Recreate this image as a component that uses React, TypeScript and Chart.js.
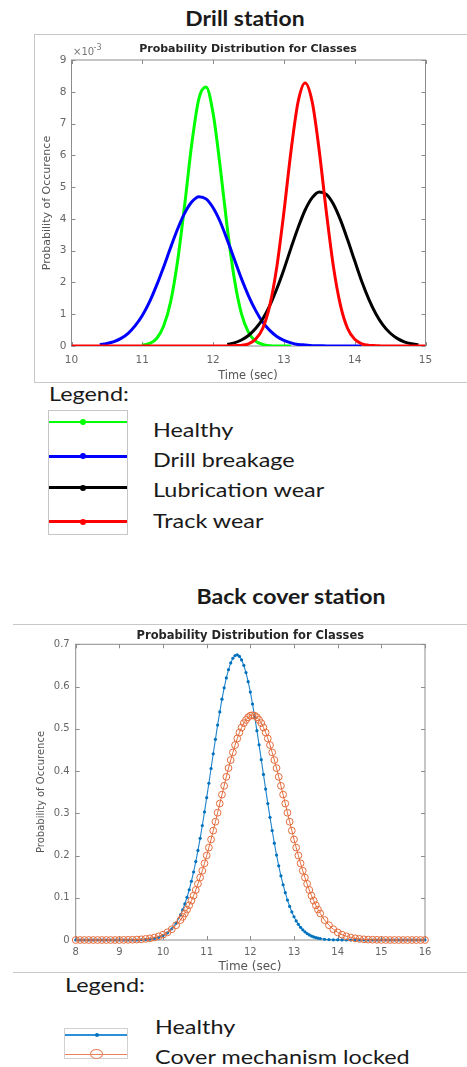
import React, { useEffect, useRef } from "react";
import { Chart, registerables } from "chart.js";
Chart.register(...registerables);

// ---------- Drill station (values in units of 10^-3) ----------
const drillTime = [
  10.0, 10.1, 10.2, 10.3, 10.4, 10.5, 10.6, 10.7, 10.8, 10.9,
  11.0, 11.1, 11.2, 11.3, 11.4, 11.5, 11.6, 11.7, 11.8, 11.9,
  12.0, 12.1, 12.2, 12.3, 12.4, 12.5, 12.6, 12.7, 12.8, 12.9,
  13.0, 13.1, 13.2, 13.3, 13.4, 13.5, 13.6, 13.7, 13.8, 13.9,
  14.0, 14.1, 14.2, 14.3, 14.4, 14.5, 14.6, 14.7, 14.8, 14.9,
  15.0,
];
const drillHealthy = [
  null, null, null, null, null, null, null, null, null, null,
  0.02, 0.08, 0.23, 0.62, 1.39, 2.7, 4.47, 6.38, 7.79, 8.15,
  7.32, 5.64, 3.72, 2.11, 1.02, 0.43, 0.15, 0.05, 0.01, 0,
  0, 0, null, null, null, null, null, null, null, null,
  null, null, null, null, null, null, null, null, null, null,
  null,
];
const drillBreakage = [
  null, null, null, null, 0.04, 0.08, 0.14, 0.24, 0.4, 0.64,
  0.96, 1.38, 1.9, 2.48, 3.1, 3.69, 4.19, 4.54, 4.7, 4.63,
  4.35, 3.91, 3.34, 2.73, 2.12, 1.58, 1.12, 0.75, 0.49, 0.3,
  0.18, 0.1, 0.05, 0.03, 0.01, 0.01, 0, 0, 0, 0,
  0, 0, null, null, null, null, null, null, null, null,
  null,
];
const drillLubrication = [
  null, null, null, null, null, null, null, null, null, null,
  null, null, null, null, null, null, null, null, null, null,
  null, null, 0.05, 0.1, 0.19, 0.33, 0.55, 0.85, 1.27, 1.8,
  2.41, 3.08, 3.72, 4.28, 4.67, 4.85, 4.77, 4.46, 3.96, 3.34,
  2.68, 2.03, 1.47, 1.01, 0.66, 0.41, 0.24, 0.13, 0.07, 0.04,
  null,
];
const drillTrack = [
  0, 0, 0, 0, 0, 0, 0, 0, 0, 0,
  0, 0, 0, 0, 0, 0, 0, 0, 0, 0,
  0, 0, 0, 0.01, 0.02, 0.07, 0.21, 0.55, 1.27, 2.49,
  4.21, 6.13, 7.68, 8.28, 7.68, 6.13, 4.21, 2.49, 1.27, 0.55,
  0.21, 0.07, 0.02, 0.01, 0, 0, 0, 0, 0, 0,
  0,
];
const drillLabels = ["Healthy", "Drill breakage", "Lubrication wear", "Track wear"];
const drillColors = ["#00ff00", "#0000ff", "#000000", "#ff0000"];

// ---------- Back cover station (denser sampling on the central part) ----------
const backTime = [
  8.0, 8.1, 8.2, 8.3, 8.4, 8.5, 8.6, 8.7, 8.8, 8.9,
  9.0, 9.1, 9.2, 9.3, 9.4, 9.5, 9.6, 9.7, 9.8, 9.9,
  10.0, 10.1, 10.2, 10.3,
  10.4, 10.45, 10.5, 10.55, 10.6, 10.65, 10.7, 10.75, 10.8, 10.85, 10.9, 10.95,
  11.0, 11.05, 11.1, 11.15, 11.2, 11.25, 11.3, 11.35, 11.4, 11.45,
  11.5, 11.55, 11.6, 11.65, 11.7, 11.75, 11.8, 11.85, 11.9, 11.95,
  12.0, 12.05, 12.1, 12.15, 12.2, 12.25, 12.3, 12.35, 12.4, 12.45,
  12.5, 12.55, 12.6, 12.65, 12.7, 12.75, 12.8, 12.85, 12.9, 12.95,
  13.0, 13.05, 13.1, 13.15, 13.2, 13.25, 13.3, 13.35, 13.4, 13.45, 13.5, 13.55, 13.6,
  13.7, 13.8, 13.9, 14.0, 14.1, 14.2, 14.3, 14.4, 14.5, 14.6, 14.7, 14.8, 14.9,
  15.0, 15.1, 15.2, 15.3, 15.4, 15.5, 15.6, 15.7, 15.8, 15.9, 16.0,
];
const backHealthy = [
  0, 0, 0, 0, 0, 0, 0, 0, 0, 0,
  0, 0, 0, 0, 0, 0.0006, 0.0011, 0.0021, 0.0037, 0.0063,
  0.0104, 0.0168, 0.0264, 0.0401,
  0.0593, 0.0714, 0.0853, 0.1011, 0.119, 0.1391, 0.161, 0.1856, 0.212, 0.2408, 0.271, 0.3033,
  0.337, 0.3711, 0.406, 0.4408, 0.475, 0.5087, 0.54, 0.5701, 0.597, 0.6205,
  0.64, 0.656, 0.667, 0.6734, 0.675, 0.6714, 0.663, 0.6502, 0.633, 0.6116,
  0.587, 0.5586, 0.528, 0.4955, 0.462, 0.4269, 0.392, 0.3572, 0.323, 0.2903,
  0.259, 0.2291, 0.201, 0.1756, 0.152, 0.1308, 0.112, 0.0945, 0.0795, 0.0664,
  0.055, 0.0452, 0.037, 0.03, 0.0241, 0.0193, 0.0153, 0.012, 0.0094, 0.0073, 0.0056, 0.0043, 0.0033,
  0.0018, 0.001, 0.0005, 0.0003, 0.0001, 0, 0, 0, 0, 0, 0, 0, 0,
  0, 0, 0, 0, 0, 0, 0, 0, 0, 0, 0,
];
const backLocked = [
  0, 0, 0, 0, 0, 0, 0, 0, 0, 0,
  0.0001, 0.0002, 0.0004, 0.0006, 0.001, 0.0016, 0.0026, 0.0039, 0.0059, 0.0087,
  0.0127, 0.0181, 0.0254, 0.035,
  0.0473, 0.0547, 0.0629, 0.072, 0.0821, 0.0932, 0.105, 0.1185, 0.133, 0.1479, 0.164, 0.1815,
  0.2, 0.2187, 0.238, 0.259, 0.28, 0.3012, 0.323, 0.3442, 0.365, 0.3863,
  0.407, 0.426, 0.444, 0.4615, 0.477, 0.4911, 0.503, 0.5134, 0.521, 0.5273,
  0.531, 0.532, 0.531, 0.5273, 0.521, 0.5134, 0.503, 0.4911, 0.477, 0.4615,
  0.444, 0.426, 0.407, 0.3863, 0.365, 0.3442, 0.323, 0.3012, 0.28, 0.259,
  0.238, 0.2187, 0.2, 0.1815, 0.164, 0.1479, 0.133, 0.1185, 0.105, 0.0932, 0.0821, 0.072, 0.0629,
  0.0473, 0.035, 0.0254, 0.0181, 0.0127, 0.0087, 0.0059, 0.0039, 0.0026, 0.0016, 0.001, 0.0006, 0.0004,
  0.0002, 0.0001, 0, 0, 0, 0, 0, 0, 0, 0, 0,
];
const backLabels = ["Healthy", "Cover mechanism locked"];
const backColors = ["#0072BD", "#E36C3C"];

const chartTitle = "Probability Distribution for Classes";
const xTitle = "Time (sec)";
const yTitle = "Probability of Occurence";

type TextItem = {
  text: string; x: number; y: number; font: string; color: string;
  align?: CanvasTextAlign; rotate?: boolean;
};

function makeFrame(texts: TextItem[]) {
  return {
    id: "matlabFrame",
    beforeDatasetsDraw(chart: any) {
      const { ctx, chartArea: a, scales } = chart;
      ctx.save();
      ctx.strokeStyle = "#8c8c8c";
      ctx.lineWidth = 1;
      ctx.strokeRect(a.left, a.top, a.right - a.left, a.bottom - a.top);
      const tl = 4;
      ctx.beginPath();
      scales.x.ticks.forEach((t: any) => {
        const px = Math.round(scales.x.getPixelForValue(t.value)) + 0.5;
        ctx.moveTo(px, a.bottom); ctx.lineTo(px, a.bottom - tl);
        ctx.moveTo(px, a.top); ctx.lineTo(px, a.top + tl);
      });
      scales.y.ticks.forEach((t: any) => {
        const py = Math.round(scales.y.getPixelForValue(t.value)) + 0.5;
        ctx.moveTo(a.left, py); ctx.lineTo(a.left + tl, py);
        ctx.moveTo(a.right, py); ctx.lineTo(a.right - tl, py);
      });
      ctx.stroke();
      ctx.restore();
    },
    afterDraw(chart: any) {
      const ctx = chart.ctx;
      texts.forEach((t) => {
        ctx.save();
        ctx.font = t.font;
        ctx.fillStyle = t.color;
        ctx.textAlign = t.align || "center";
        ctx.textBaseline = "alphabetic";
        ctx.translate(t.x, t.y);
        if (t.rotate) ctx.rotate(-Math.PI / 2);
        ctx.fillText(t.text, 0, 0);
        ctx.restore();
      });
    },
  };
}

function axisOpts(min: number, max: number, step: number, pad: number, size: number, fixed: (s: any) => void) {
  return {
    type: "linear" as const,
    min, max,
    ticks: { stepSize: step, padding: pad, color: "#666", font: { family: "DejaVu Sans", size }, maxRotation: 0, autoSkip: false },
    grid: { display: false, drawTicks: false },
    border: { display: false },
    afterFit: fixed,
  };
}

function DrillChart() {
  const ref = useRef<HTMLCanvasElement>(null);
  useEffect(() => {
    const series = [drillHealthy, drillBreakage, drillLubrication, drillTrack];
    const datasets = series.map((vals, k) => ({
      label: drillLabels[k],
      data: drillTime.map((t, i) => ({ x: t, y: vals[i] })).filter((p) => p.y !== null),
      borderColor: drillColors[k],
      backgroundColor: drillColors[k],
      borderWidth: 3,
      pointRadius: 0,
      cubicInterpolationMode: "monotone" as const,
      fill: false,
      order: 3 - k,
    }));
    const texts: TextItem[] = [
      { text: chartTitle, x: 212, y: 17.3, font: "bold 11px 'DejaVu Sans'", color: "#262626" },
      { text: xTitle, x: 212, y: 344, font: "11.4px 'DejaVu Sans'", color: "#555" },
      { text: yTitle, x: 14.4, y: 168, font: "11px 'DejaVu Sans'", color: "#555", rotate: true },
      { text: "\u00d710", x: 37, y: 19.6, font: "10px 'DejaVu Sans'", color: "#777", align: "left" },
      { text: "-3", x: 57.5, y: 15, font: "8px 'DejaVu Sans'", color: "#777", align: "left" },
    ];
    const chart = new Chart(ref.current!, {
      type: "line",
      data: { datasets },
      options: {
        responsive: false, animation: false, devicePixelRatio: 1, events: [],
        layout: { padding: { left: 0, top: 25, right: 41.5, bottom: 0 } },
        plugins: { legend: { display: false }, tooltip: { enabled: false }, title: { display: false } },
        scales: {
          x: axisOpts(10, 15, 1, 8, 10.5, (s: any) => { s.height = 35; }),
          y: axisOpts(0, 9, 1, 5, 10.5, (s: any) => { s.width = 35.5; }),
        },
      },
      plugins: [makeFrame(texts)],
    } as any);
    return () => chart.destroy();
  }, []);
  return <canvas ref={ref} width={431} height={346} style={{ position: "absolute", left: 36, top: 35, width: 431, height: 346 }} />;
}

function BackChart() {
  const ref = useRef<HTMLCanvasElement>(null);
  useEffect(() => {
    const datasets = [
      {
        label: backLabels[0],
        data: backTime.map((t, i) => ({ x: t, y: backHealthy[i] })),
        borderColor: "#1f84cc",
        borderWidth: 1.1,
        pointRadius: 1.6,
        pointBackgroundColor: backColors[0],
        pointBorderWidth: 0,
        tension: 0,
        fill: false,
        clip: false,
        order: 1,
      },
      {
        label: backLabels[1],
        data: backTime.map((t, i) => ({ x: t, y: backLocked[i] })),
        borderColor: backColors[1],
        borderWidth: 1,
        pointRadius: 3.4,
        pointStyle: "circle",
        pointBackgroundColor: "rgba(0,0,0,0)",
        pointBorderColor: backColors[1],
        pointBorderWidth: 1,
        tension: 0,
        fill: false,
        clip: false,
        order: 0,
      },
    ];
    const texts: TextItem[] = [
      { text: chartTitle, x: 237.3, y: 13.5, font: "bold 11.5px 'DejaVu Sans'", color: "#262626" },
      { text: xTitle, x: 237, y: 345, font: "12px 'DejaVu Sans'", color: "#555" },
      { text: yTitle, x: 31.3, y: 167, font: "10px 'DejaVu Sans'", color: "#555", rotate: true },
    ];
    const chart = new Chart(ref.current!, {
      type: "line",
      data: { datasets },
      options: {
        responsive: false, animation: false, devicePixelRatio: 1, events: [],
        layout: { padding: { left: 0, top: 19.3, right: 42, bottom: 0 } },
        plugins: { legend: { display: false }, tooltip: { enabled: false }, title: { display: false } },
        scales: {
          x: axisOpts(8, 16, 1, 6, 10, (s: any) => { s.height = 32; }),
          y: axisOpts(0, 0.7, 0.1, 6, 10, (s: any) => { s.width = 62.7; }),
        },
      },
      plugins: [makeFrame(texts)],
    } as any);
    return () => chart.destroy();
  }, []);
  return <canvas ref={ref} width={454} height={347} style={{ position: "absolute", left: 13, top: 625, width: 454, height: 347 }} />;
}

const lato = "Lato, 'Open Sans', sans-serif";

function T(props: { x: number; y: number; size: number; bold?: boolean; children: any; center?: boolean; sx?: number }) {
  const style: any = {
    position: "absolute", top: props.y, fontFamily: lato, fontSize: props.size, lineHeight: 1,
    fontWeight: props.bold ? 700 : 400, color: "#1a1a1a", whiteSpace: "nowrap",
    transform: `scaleX(${props.sx || 1})`,
  };
  if (props.center) {
    style.left = props.x - 150; style.width = 300; style.textAlign = "center"; style.transformOrigin = "50% 50%";
  } else {
    style.left = props.x; style.transformOrigin = "0 50%";
  }
  return <div style={style}>{props.children}</div>;
}

function Line(props: { x: number; y: number; w: number; h: number; c: string }) {
  return <div style={{ position: "absolute", left: props.x, top: props.y - props.h / 2, width: props.w, height: props.h, background: props.c }} />;
}

function Dot(props: { x: number; y: number; w: number; h: number; c: string; hollow?: boolean }) {
  return (
    <div style={{
      position: "absolute", left: props.x - props.w / 2, top: props.y - props.h / 2, width: props.w, height: props.h,
      borderRadius: "50%", boxSizing: "border-box",
      background: props.hollow ? "transparent" : props.c, border: props.hollow ? `1.5px solid ${props.c}` : "none",
    }} />
  );
}

export default function App() {
  const topLegendY = [422, 456.3, 487.7, 521.7];
  const topLegendTextY = [419.4, 448.9, 478.9, 509.6];
  const LS = 1.17;
  return (
    <div style={{ position: "absolute", left: 0, top: 0, width: 467, height: 1067, overflow: "hidden", background: "#fff" }}>
      <T x={245} y={7.2} size={21} bold center sx={1.09}>Drill station</T>
      <div style={{ position: "absolute", left: 34, top: 34, width: 433, height: 347, borderTop: "1px solid #c8c8c8", borderLeft: "1px solid #c8c8c8", borderBottom: "1px solid #c8c8c8" }} />
      <DrillChart />
      <T x={49} y={383.2} size={20} sx={LS}>Legend:</T>
      <div style={{ position: "absolute", left: 48, top: 410, width: 78, height: 123, border: "1px solid #c6c6c6" }} />
      {drillLabels.map((lab, k) => (
        <React.Fragment key={lab}>
          <Line x={49} y={topLegendY[k]} w={78} h={2.5} c={drillColors[k]} />
          <Dot x={83} y={topLegendY[k]} w={6} h={6} c={drillColors[k]} />
          <T x={152.5} y={topLegendTextY[k]} size={20} sx={LS}>{lab}</T>
        </React.Fragment>
      ))}

      <T x={291} y={584.7} size={21} bold center sx={1.1}>Back cover station</T>
      <div style={{ position: "absolute", left: 13, top: 624, width: 454, height: 0, borderTop: "1px solid #c8c8c8" }} />
      <BackChart />
      <div style={{ position: "absolute", left: 13, top: 972, width: 454, height: 0, borderTop: "1px solid #c8c8c8" }} />
      <T x={65} y={973.6} size={20} sx={LS}>Legend:</T>
      <div style={{ position: "absolute", left: 64, top: 1028, width: 62, height: 29, border: "1px solid #d0d0d0" }} />
      <Line x={65} y={1035} w={62} h={1.5} c="#2a8fd8" />
      <Dot x={96.7} y={1035} w={4} h={4} c={backColors[0]} />
      <Line x={65} y={1054.3} w={62} h={1.5} c="#E8825A" />
      <Dot x={96.7} y={1054.3} w={13} h={10} c="#E8825A" hollow />
      <T x={155} y={1016.1} size={20} sx={LS}>{backLabels[0]}</T>
      <T x={155} y={1045.7} size={20} sx={LS}>{backLabels[1]}</T>
    </div>
  );
}
